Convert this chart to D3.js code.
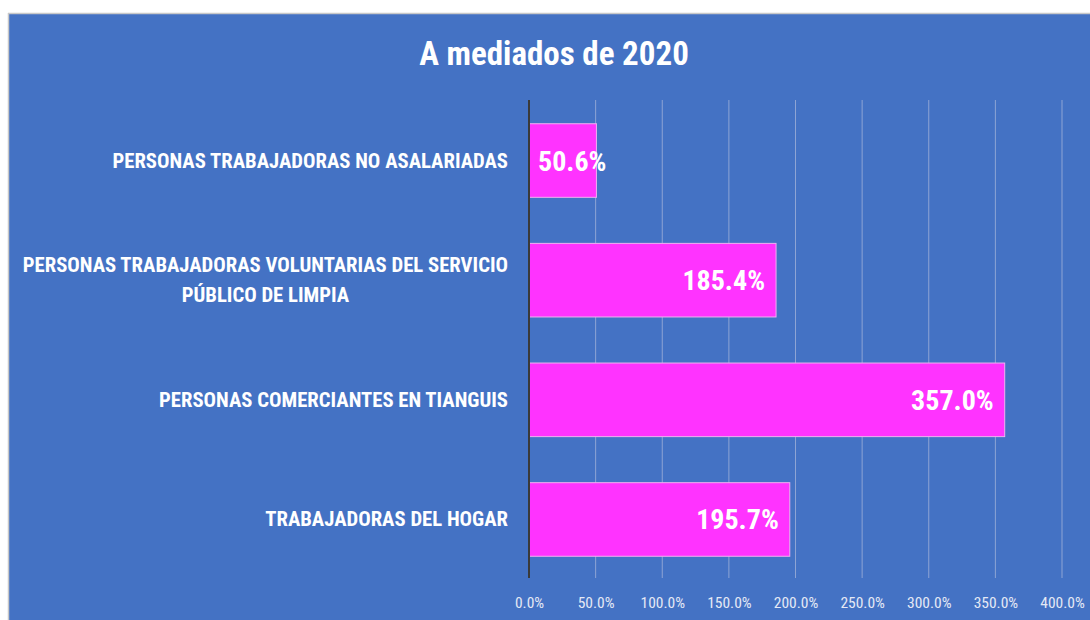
<!DOCTYPE html>
<html><head><meta charset="utf-8">
<script src="https://cdn.jsdelivr.net/npm/d3@7"></script>
<style>html,body{margin:0;padding:0;background:#fff;overflow:hidden}</style>
</head><body>
<svg id="c" width="1090" height="620"></svg>
<script>
const title = "A mediados de 2020";
const categories = [
  ["PERSONAS TRABAJADORAS NO ASALARIADAS"],
  ["PERSONAS TRABAJADORAS VOLUNTARIAS DEL SERVICIO", "PÚBLICO DE LIMPIA"],
  ["PERSONAS COMERCIANTES EN TIANGUIS"],
  ["TRABAJADORAS DEL HOGAR"]
];
const values = [50.6, 185.4, 357.0, 195.7];
const ticks = [0, 50, 100, 150, 200, 250, 300, 350, 400];

const FONT = "'Liberation Sans Narrow','Arial Narrow','Roboto Condensed',sans-serif";
const svg = d3.select("#c");
svg.append("rect").attr("x", 9).attr("y", 14).attr("width", 1081).attr("height", 606)
  .attr("fill", "#4472C4");
svg.append("line").attr("x1", 8.5).attr("x2", 8.5).attr("y1", 13).attr("y2", 620).attr("stroke", "#c8c8c8").attr("stroke-width", 1.5);
svg.append("line").attr("x1", 8).attr("x2", 1090).attr("y1", 13.5).attr("y2", 13.5).attr("stroke", "#c8c8c8").attr("stroke-width", 1.5);

const x = d3.scaleLinear().domain([0, 400]).range([529, 1062]);
const y = d3.scaleBand().domain(d3.range(categories.length)).range([101, 579]).paddingInner(0.385).paddingOuter(0.19);

svg.append("text").attr("x", 554).attr("y", 65).attr("text-anchor", "middle")
  .attr("fill", "#fff").attr("font-family", FONT).attr("font-weight", "bold").attr("font-size", 33)
  .text(title);

// gridlines
svg.append("g").selectAll("line").data(ticks.filter(t => t > 0)).join("line")
  .attr("x1", d => x(d)).attr("x2", d => x(d)).attr("y1", 100).attr("y2", 578)
  .attr("stroke", "#8ea4d4").attr("stroke-width", 1);

// x axis tick labels
const xa = svg.append("g").attr("transform", "translate(0,578)")
  .call(d3.axisBottom(x).tickValues(ticks).tickSize(0).tickPadding(19).tickFormat(d => d3.format(".1f")(d) + "%"));
xa.select(".domain").remove();
xa.selectAll("text").attr("fill", "#e4e9f5").attr("font-family", FONT).attr("font-size", 15.5);

// bars
svg.append("g").selectAll("rect").data(values).join("rect")
  .attr("x", x(0)).attr("y", (d, i) => y(i)).attr("width", d => x(d) - x(0)).attr("height", y.bandwidth())
  .attr("fill", "#FF33FF").attr("stroke", "#f0b0f0").attr("stroke-width", 1);

// axis line
svg.append("line").attr("x1", x(0)).attr("x2", x(0)).attr("y1", 100).attr("y2", 578)
  .attr("stroke", "#3a3a3a").attr("stroke-width", 2);

// value labels
const vl = svg.append("g").selectAll("text").data(values).join("text")
  .attr("y", (d, i) => y(i) + y.bandwidth() / 2 + 10)
  .attr("fill", "#fff").attr("font-family", FONT).attr("font-weight", "bold").attr("font-size", 28)
  .attr("text-anchor", "start")
  .text(d => d3.format(".1f")(d) + "%");
vl.each(function(d) {
  const w = this.getComputedTextLength();
  const xe = x(d) - 11 - w;
  d3.select(this).attr("x", Math.max(xe, x(0) + 9));
});

// category labels
const cg = svg.append("g");
categories.forEach((lines, i) => {
  const cy = y(i) + y.bandwidth() / 2;
  const lh = 30;
  const texts = lines.map((ln, j) => cg.append("text")
    .attr("y", cy + (j - (lines.length - 1) / 2) * lh + 7)
    .attr("fill", "#fff").attr("font-family", FONT).attr("font-weight", "bold").attr("font-size", 20.7)
    .attr("text-anchor", "middle").text(ln));
  const widths = texts.map(t => t.node().getComputedTextLength());
  const maxW = d3.max(widths);
  const center = 508 - maxW / 2;
  texts.forEach(t => t.attr("x", center));
});
</script>
</body></html>
